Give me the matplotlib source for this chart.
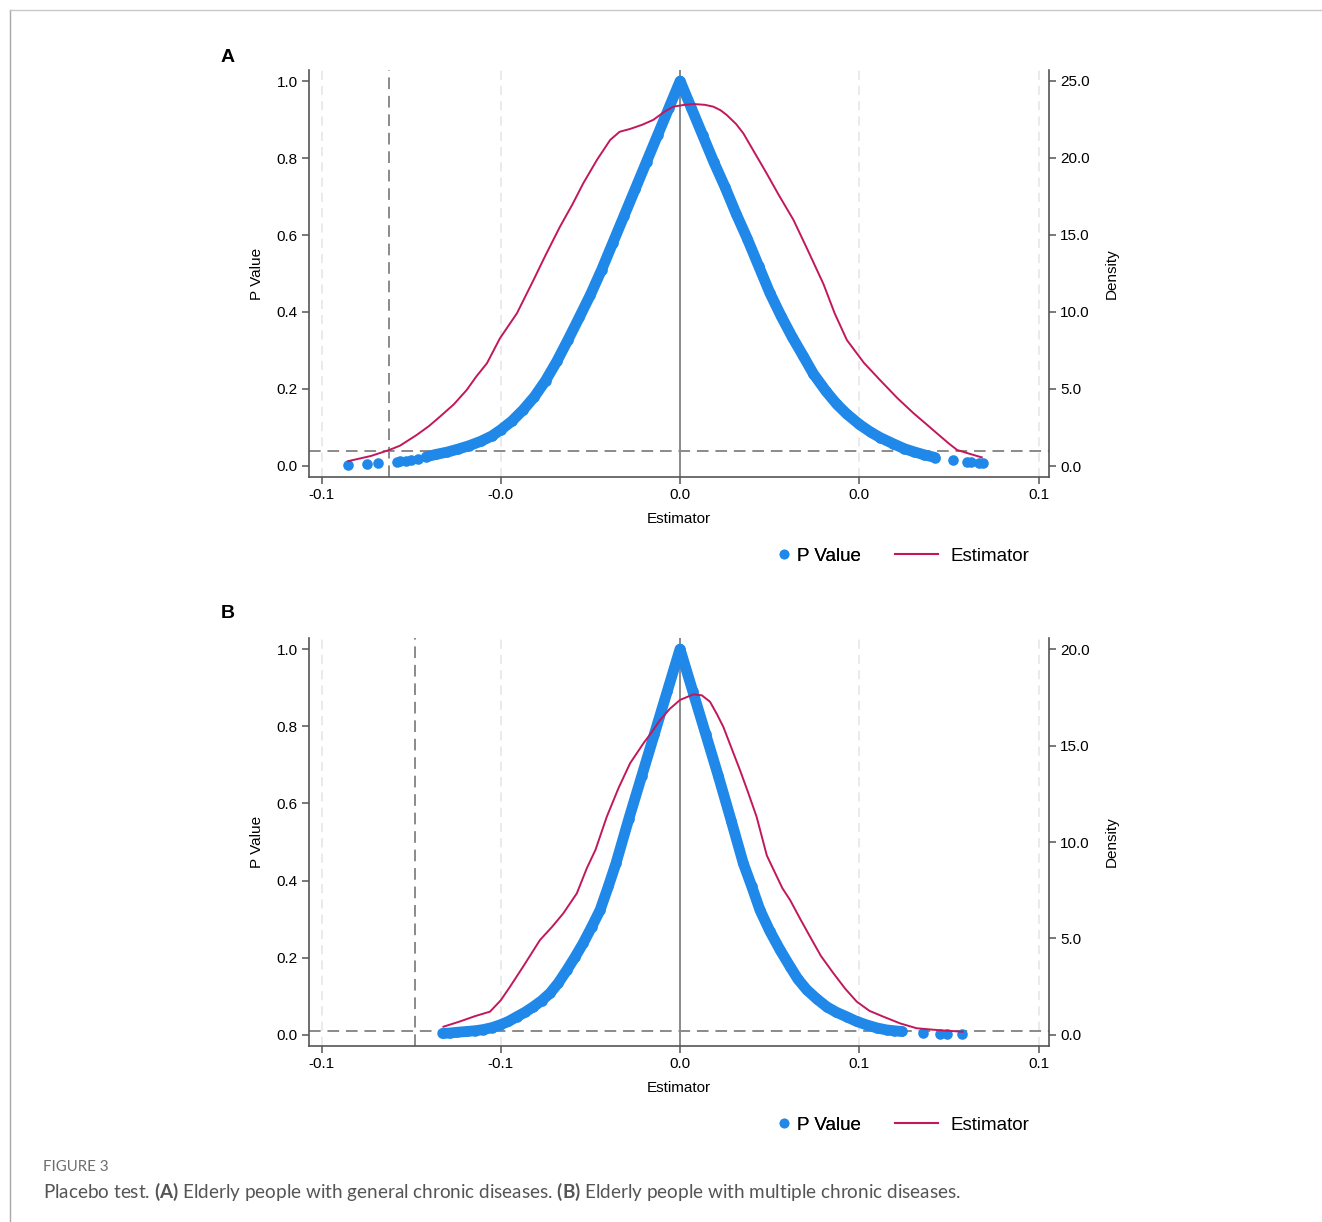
import matplotlib
matplotlib.use('Agg')
import matplotlib.pyplot as plt
from matplotlib.lines import Line2D

plt.rcParams['font.family'] = ['Liberation Sans', 'DejaVu Sans']
plt.rcParams['mathtext.fontset'] = 'custom'
plt.rcParams['mathtext.rm'] = 'Lato'
plt.rcParams['mathtext.bf'] = 'Lato:bold'

BLUE = '#1f88e8'
RED = '#c2185b'
GRAY = '#8a8a8a'
AXC = '#555555'

# ---- panel A: general chronic diseases ----
a_core_est = [-0.0566, -0.0545, -0.0520, -0.0495, -0.0470, -0.0445, -0.0420, -0.0400,
              -0.0375, -0.0350, -0.0325, -0.0300, -0.0275, -0.0250, -0.0225, -0.0200,
              -0.0175, -0.0150, -0.0125, -0.0100, -0.0075, -0.0050, -0.0025, 0.0,
              0.0025, 0.0050, 0.0075, 0.0100, 0.0125, 0.0150, 0.0175, 0.0200,
              0.0225, 0.0250, 0.0275, 0.0297, 0.0325, 0.0350, 0.0372, 0.0400,
              0.0425, 0.0446, 0.0475, 0.0500, 0.0521, 0.0545, 0.0569]
a_core_p = [0.024, 0.030, 0.036, 0.044, 0.053, 0.064, 0.078, 0.094,
            0.117, 0.146, 0.180, 0.222, 0.272, 0.328, 0.386, 0.445,
            0.510, 0.580, 0.650, 0.720, 0.790, 0.860, 0.930, 1.0,
            0.930, 0.860, 0.790, 0.725, 0.655, 0.590, 0.520, 0.450,
            0.390, 0.335, 0.285, 0.240, 0.195, 0.160, 0.135, 0.108,
            0.088, 0.074, 0.058, 0.045, 0.037, 0.029, 0.022]
a_tail_est = [-0.0742, -0.0699, -0.0673, -0.0632, -0.0625, -0.0611, -0.0601, -0.0585,
              0.0609, 0.0640, 0.0648, 0.0666, 0.0676]
a_tail_p = [0.003, 0.005, 0.007, 0.011, 0.012, 0.014, 0.016, 0.018,
            0.015, 0.010, 0.010, 0.008, 0.007]
a_dens_est = [-0.0740, -0.0690, -0.0649, -0.0625, -0.0588, -0.0560, -0.0536, -0.0505,
              -0.0476, -0.0455, -0.0431, -0.0402, -0.0364, -0.0327, -0.0300, -0.0268,
              -0.0240, -0.0216, -0.0185, -0.0156, -0.0135, -0.0112, -0.0085, -0.0060,
              -0.0035, -0.0015, 0.0010, 0.0030, 0.0055, 0.0074, 0.0090, 0.0104,
              0.0125, 0.0141, 0.0165, 0.0193, 0.0220, 0.0253, 0.0285, 0.0320,
              0.0345, 0.0372, 0.0410, 0.0446, 0.0485, 0.0521, 0.0550, 0.0573,
              0.0600, 0.0618, 0.0645, 0.0673]
a_dens = [0.32, 0.65, 1.04, 1.32, 2.01, 2.6, 3.2, 4.0,
          4.94, 5.8, 6.67, 8.29, 9.92, 12.08, 13.7, 15.54,
          17.0, 18.36, 19.9, 21.17, 21.7, 21.88, 22.15, 22.47,
          23.0, 23.33, 23.45, 23.5, 23.45, 23.33, 23.1, 22.79,
          22.2, 21.6, 20.4, 19.0, 17.6, 15.97, 14.0, 11.8,
          9.9, 8.18, 6.7, 5.58, 4.4, 3.42, 2.7, 2.12,
          1.45, 1.04, 0.8, 0.56]
a_xticks = [-0.08, -0.04, 0.0, 0.04, 0.08]
a_xticklabels = ['-0.1', '-0.0', '0.0', '0.0', '0.1']
a_true_est = -0.0649
a_ref_p = 0.039
a_dens_ticks = [0, 5, 10, 15, 20, 25]

# ---- panel B: multiple chronic diseases ----
b_core_est = [-0.0927, -0.0900, -0.0870, -0.0833, -0.0800, -0.0768, -0.0735, -0.0703,
              -0.0670, -0.0638, -0.0605, -0.0573, -0.0540, -0.0508, -0.0475, -0.0442,
              -0.0410, -0.0378, -0.0345, -0.0312, -0.0280, -0.0250, -0.0200, -0.0150,
              -0.0100, -0.0050, 0.0, 0.0050, 0.0100, 0.0150, 0.0200, 0.0247,
              0.0280, 0.0312, 0.0350, 0.0391, 0.0430, 0.0460, 0.0495, 0.0535,
              0.0573, 0.0610, 0.0651, 0.0690, 0.0729, 0.0770, 0.0807, 0.0835, 0.0866]
b_core_p = [0.004, 0.005, 0.007, 0.009, 0.011, 0.014, 0.019, 0.026,
            0.035, 0.047, 0.059, 0.073, 0.089, 0.108, 0.135, 0.168,
            0.202, 0.238, 0.280, 0.324, 0.385, 0.445, 0.560, 0.670,
            0.780, 0.890, 1.0, 0.890, 0.780, 0.670, 0.555, 0.445,
            0.385, 0.324, 0.270, 0.220, 0.177, 0.145, 0.117, 0.093,
            0.073, 0.059, 0.047, 0.035, 0.026, 0.018, 0.013, 0.011, 0.009]
b_tail_est = [0.0948, 0.1015, 0.1041, 0.1102]
b_tail_p = [0.004, 0.003, 0.003, 0.002]
b_dens_est = [-0.0924, -0.0860, -0.0800, -0.0742, -0.0700, -0.0664, -0.0610, -0.0547,
              -0.0500, -0.0456, -0.0403, -0.0364, -0.0330, -0.0286, -0.0240, -0.0195,
              -0.0143, -0.0110, -0.0078, -0.0040, 0.0, 0.0052, 0.0085, 0.0117,
              0.0145, 0.0169, 0.0200, 0.0234, 0.0265, 0.0299, 0.0339, 0.0364,
              0.0400, 0.0430, 0.0470, 0.0508, 0.0550, 0.0599, 0.0645, 0.0690,
              0.0740, 0.0794, 0.0860, 0.0924, 0.1010, 0.1104]
b_dens = [0.43, 0.70, 0.98, 1.21, 1.8, 2.50, 3.6, 4.92,
          5.6, 6.30, 7.34, 8.64, 9.6, 11.31, 12.8, 14.08,
          15.11, 15.7, 16.32, 16.9, 17.36, 17.65, 17.6, 17.27,
          16.6, 15.97, 14.9, 13.73, 12.6, 11.31, 9.3, 8.6,
          7.6, 6.99, 6.0, 5.09, 4.1, 3.20, 2.4, 1.73,
          1.25, 0.95, 0.6, 0.35, 0.25, 0.17]
b_xticks = [-0.14, -0.07, 0.0, 0.07, 0.14]
b_xticklabels = ['-0.1', '-0.1', '0.0', '0.1', '0.1']
b_true_est = -0.1035
b_ref_p = 0.0104
b_dens_ticks = [0, 5, 10, 15, 20]


fig = plt.figure(figsize=(13.22, 12.22), dpi=100)
W, H = 1322.0, 1222.0


def draw_panel(rect, core_x, core_p, tail_x, tail_p, dens_x, dens, xticks, xlabels,
               xlim, true_est, ref_p, dticks, dlim, legend_y):
    ax = fig.add_axes(rect)
    ax.set_xlim(xlim)
    ax.set_ylim(-0.0286, 1.0286)
    for t in xticks:
        if t != 0:
            ax.axvline(t, color='#e4e4e4', lw=1.1, ls=(0, (6, 4)), zorder=0)
    ax.axvline(0, color=GRAY, lw=1.4, zorder=1)
    ax.axvline(true_est, color=GRAY, lw=1.4, ls=(0, (6, 3.5)), zorder=1)
    ax.axhline(ref_p, color=GRAY, lw=1.4, ls=(0, (6, 3.5)), zorder=1)
    ax.plot(core_x, core_p, color=BLUE, lw=7.8, solid_joinstyle='round',
            solid_capstyle='round', zorder=2)
    ax.scatter(core_x + tail_x, core_p + tail_p, s=58, color=BLUE, lw=0, zorder=3)

    ax.set_xticks(xticks)
    ax.set_xticklabels(xlabels)
    ax.set_yticks([0, 0.2, 0.4, 0.6, 0.8, 1.0])
    ax.set_yticklabels(['0.0', '0.2', '0.4', '0.6', '0.8', '1.0'])
    ax.set_ylabel('P Value', fontsize=11)
    ax.set_xlabel('Estimator', fontsize=11)
    ax.yaxis.set_label_coords(-0.061, 0.5)
    ax.xaxis.set_label_coords(0.5, -0.085)

    ax2 = ax.twinx()
    ax2.plot(dens_x, dens, color=RED, lw=1.4)
    ax2.set_ylim(dlim)
    ax2.set_yticks(dticks)
    ax2.set_yticklabels(['%.1f' % d for d in dticks])
    ax2.set_ylabel('Density', fontsize=11)
    ax2.yaxis.set_label_coords(1.075, 0.5)

    for a in (ax, ax2):
        a.spines['top'].set_visible(False)
        for s in a.spines.values():
            s.set_color(AXC)
            s.set_linewidth(1.2)
        a.tick_params(direction='out', length=5, width=1.1, color=AXC,
                      labelsize=11, pad=3)
    ax.spines['right'].set_visible(False)
    ax2.spines['left'].set_visible(False)
    ax2.spines['bottom'].set_visible(False)

    # two one-entry legends so each key gets its own handle length
    leg1 = ax.legend([Line2D([], [], marker='o', ls='', color=BLUE, markersize=6)],
                     ['P Value'], frameon=False, loc='center left',
                     bbox_to_anchor=(777 / W, legend_y), bbox_transform=fig.transFigure,
                     fontsize=13.5, handlelength=0.7, handletextpad=0.35,
                     borderpad=0, borderaxespad=0)
    ax.add_artist(leg1)
    ax2.legend([Line2D([], [], color=RED, lw=1.5)], ['Estimator'], frameon=False,
               loc='center left', bbox_to_anchor=(895 / W, legend_y),
               bbox_transform=fig.transFigure, fontsize=13.5, handlelength=2.3,
               handletextpad=0.64, borderpad=0, borderaxespad=0)
    return ax


draw_panel([309 / W, 1 - 477 / H, 740 / W, 407 / H], a_core_est, a_core_p, a_tail_est, a_tail_p,
           a_dens_est, a_dens, a_xticks, a_xticklabels, (-0.0828, 0.0823),
           a_true_est, a_ref_p, a_dens_ticks, (-0.714, 25.71), 1 - 556 / H)
draw_panel([309 / W, 1 - 1046 / H, 740 / W, 408 / H], b_core_est, b_core_p, b_tail_est, b_tail_p,
           b_dens_est, b_dens, b_xticks, b_xticklabels, (-0.1449, 0.1441),
           b_true_est, b_ref_p, b_dens_ticks, (-0.57, 20.57), 1 - 1125 / H)

fig.text(221 / W, 1 - 57 / H, 'A', fontsize=14, fontweight='bold', va='center')
fig.text(221 / W, 1 - 613 / H, 'B', fontsize=14, fontweight='bold', va='center')

# page frame
fig.add_artist(Line2D([10 / W, 10 / W], [0, 1 - 10 / H], transform=fig.transFigure,
                      color='#a8a8a8', lw=1))
fig.add_artist(Line2D([10 / W, 1], [1 - 10 / H, 1 - 10 / H], transform=fig.transFigure,
                      color='#c8c8c8', lw=1))

fig.text(43 / W, 1 - 1167 / H, 'FIGURE 3', fontsize=10.8, color='#6e6e6e',
         family='Lato', va='center')
fig.text(43 / W, 1 - 1192 / H,
         r'Placebo test. $\mathbf{(A)}$ Elderly people with general chronic diseases. '
         r'$\mathbf{(B)}$ Elderly people with multiple chronic diseases.',
         fontsize=13.6, color='#555555', family='Lato', va='center')

fig.savefig('out.png', dpi=100)
